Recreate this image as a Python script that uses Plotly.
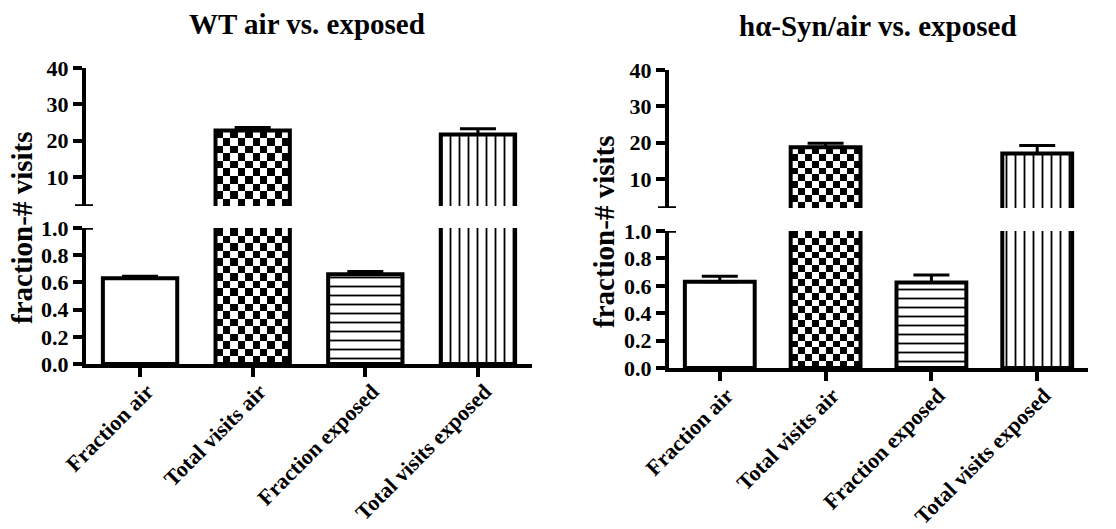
import numpy as np
import plotly.graph_objects as go

W, H = 1116, 529

# ---- data -------------------------------------------------------------
categories = ["Fraction air", "Total visits air", "Fraction exposed", "Total visits exposed"]
panel_titles = ["WT air vs. exposed", "hα-Syn/air vs. exposed"]
y_title = "fraction-# visits"

wt_means = [0.63, 22.8, 0.66, 21.7]
wt_errors = [0.015, 0.8, 0.02, 1.6]
syn_means = [0.63, 18.7, 0.624, 17.0]
syn_errors = [0.04, 1.1, 0.055, 2.2]

lower_ticks = [0.0, 0.2, 0.4, 0.6, 0.8, 1.0]
upper_ticks = [10, 20, 30, 40]
lower_range = [0.0, 1.0]
upper_range = [2.0, 40.0]

# ---- styling ----------------------------------------------------------
FONT = "Liberation Serif"
LW = 4            # axis / bar outline width
BAR_W = 0.66
X_RANGE = [-0.48, 3.48]
CHECKER_COLS = 10

# per-panel pixel frame: x0, x1, upper top, upper bottom, lower top, lower bottom
frames = [
    dict(x0=86, x1=532, ut=68, ub=206, lt=228, lb=364),
    dict(x0=669, x1=1088, ut=70, ub=208, lt=231, lb=368),
]
title_pos = [(307, 24), (878, 26)]
ytitle_pos = [(22, 228), (604, 232)]

fill_colors = ["white", "rgba(0,0,0,0)", "white", "white"]
pattern_shapes = ["", "", "-", "|"]


def px_x(p):
    return p / W


def px_y(p):
    return 1 - p / H


fig = go.Figure()
layout = {}
annotations = []
shapes = []

panels = [(wt_means, wt_errors), (syn_means, syn_errors)]

for i, ((means, errs), fr) in enumerate(zip(panels, frames)):
    xa = "x" if i == 0 else "x2"
    ya_low = f"y{2 * i + 1}" if i else "y"
    ya_up = f"y{2 * i + 2}"
    xname = "xaxis" if i == 0 else "xaxis2"
    low_name = "yaxis" if i == 0 else f"yaxis{2 * i + 1}"
    up_name = f"yaxis{2 * i + 2}"

    xdom = [px_x(fr["x0"]), px_x(fr["x1"])]
    low_dom = [px_y(fr["lb"]), px_y(fr["lt"])]
    up_dom = [px_y(fr["ub"]), px_y(fr["ut"])]

    x_pos = np.arange(len(categories))

    # pixel scale of each axis, used to keep checker cells square
    px_per_x = (fr["x1"] - fr["x0"]) / (X_RANGE[1] - X_RANGE[0])
    col_w = BAR_W / CHECKER_COLS
    cell_px = col_w * px_per_x
    axis_specs = [
        (ya_low, lower_range, (fr["lb"] - fr["lt"]) / (lower_range[1] - lower_range[0])),
        (ya_up, upper_range, (fr["ub"] - fr["ut"]) / (upper_range[1] - upper_range[0])),
    ]

    # checkerboard fill of the "Total visits air" bar
    ci = 1
    for yname, rng, px_per_y in axis_specs:
        top = min(means[ci], rng[1])
        base = rng[0]
        if top <= base:
            continue
        nrows = max(1, int(round((top - base) * px_per_y / cell_px)))
        xe = np.linspace(x_pos[ci] - BAR_W / 2, x_pos[ci] + BAR_W / 2, CHECKER_COLS + 1)
        ye = np.linspace(base, top, nrows + 1)
        z = [[(r + c) % 2 for c in range(CHECKER_COLS)] for r in range(nrows)]
        fig.add_trace(go.Heatmap(
            x=xe, y=ye, z=z, zmin=0, zmax=1, zsmooth=False,
            colorscale=[[0, "white"], [1, "black"]], showscale=False,
            hoverinfo="skip", xaxis=xa, yaxis=yname,
        ))

    # one bar per category, drawn on both halves of the broken axis;
    # each half clips the bars to its own range
    for yname, rng, _ in axis_specs:
        for k in range(len(categories)):
            marker = dict(color=fill_colors[k], line=dict(color="black", width=LW))
            if pattern_shapes[k]:
                marker["pattern"] = dict(shape=pattern_shapes[k], fgcolor="black",
                                         bgcolor="white", size=9, solidity=0.2,
                                         fillmode="replace")
            fig.add_trace(go.Bar(
                x=[x_pos[k]], y=[means[k]], width=BAR_W,
                xaxis=xa, yaxis=yname, marker=marker,
                error_y=dict(type="data", array=[errs[k]], arrayminus=[0],
                             symmetric=False, color="black", thickness=3, width=18),
                showlegend=False, hoverinfo="skip",
            ))

    tick_font = dict(family=FONT, size=22, color="black", weight="bold")
    common = dict(
        showline=True, linecolor="black", linewidth=LW,
        ticks="outside", ticklen=9, tickwidth=3.5, tickcolor="black",
        showgrid=False, zeroline=False, tickfont=tick_font,
        fixedrange=True, automargin=False,
    )
    layout[xname] = dict(
        domain=xdom, anchor=ya_low, range=X_RANGE,
        tickvals=list(x_pos), ticktext=categories, tickangle=-45,
        ticklabelstandoff=-7, ticklabelshift=7, **common,
    )
    layout[low_name] = dict(
        domain=low_dom, anchor=xa, range=lower_range,
        tickvals=lower_ticks, tickformat=".1f", **common,
    )
    layout[up_name] = dict(
        domain=up_dom, anchor=xa, range=upper_range,
        tickvals=upper_ticks, **common,
    )

    # break marks at the ends of the two axis segments
    axis_px = fr["x0"] - LW / 2
    for yref, yval in ((ya_up, upper_range[0]), (ya_low, lower_range[1])):
        shapes.append(dict(
            type="line", xref="paper", yref=yref,
            x0=px_x(axis_px - 9), x1=px_x(axis_px + 9), y0=yval, y1=yval,
            line=dict(color="black", width=3.5),
        ))

    tx, ty = title_pos[i]
    annotations.append(dict(
        text=panel_titles[i], xref="paper", yref="paper", x=px_x(tx), y=px_y(ty),
        xanchor="center", yanchor="middle", showarrow=False,
        font=dict(family=FONT, size=29, color="black", weight="bold"),
    ))
    ax_, ay_ = ytitle_pos[i]
    annotations.append(dict(
        text=y_title, xref="paper", yref="paper", x=px_x(ax_), y=px_y(ay_),
        xanchor="center", yanchor="middle", showarrow=False, textangle=-90,
        font=dict(family=FONT, size=29, color="black", weight="bold"),
    ))

fig.update_layout(
    width=W, height=H,
    margin=dict(l=0, r=0, t=0, b=0, autoexpand=False),
    paper_bgcolor="white", plot_bgcolor="white",
    barmode="overlay", showlegend=False,
    annotations=annotations, shapes=shapes,
    **layout,
)

fig.write_html("out.html")
